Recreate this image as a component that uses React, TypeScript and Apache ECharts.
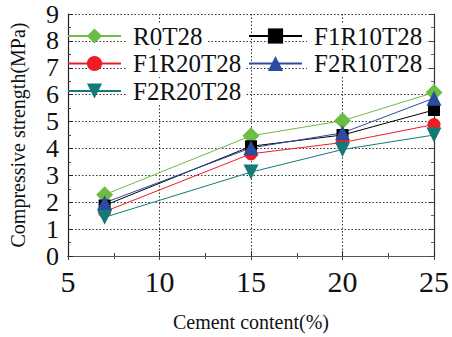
import React, { useEffect, useRef } from "react";
import * as echarts from "echarts";

const cementContent = [7, 15, 20, 25];
const seriesNames = ["R0T28", "F1R10T28", "F1R20T28", "F2R10T28", "F2R20T28"];
const r0t28 = [2.28, 4.47, 5.03, 6.08];
const f1r10t28 = [1.88, 4.08, 4.5, 5.43];
const f1r20t28 = [1.65, 3.8, 4.22, 4.89];
const f2r10t28 = [1.98, 4.02, 4.58, 5.87];
const f2r20t28 = [1.44, 3.12, 3.96, 4.5];

const FONT = "Liberation Serif";

function pairs(ys: number[]) {
  return cementContent.map((x, i) => [x, ys[i]]);
}

export default function App() {
  const ref = useRef<HTMLDivElement>(null);
  useEffect(() => {
    if (!ref.current) return;
    const chart = echarts.init(ref.current, null, { renderer: "svg" });
    const dotted = { color: "#333", width: 1, type: [1.5, 2] as number[] };
    const mk = (name: string, ys: number[], color: string, symbol: string, size: number, rotate = 0) => ({
      name,
      type: "line",
      data: pairs(ys),
      symbol,
      symbolSize: size,
      symbolRotate: rotate,
      lineStyle: { color, width: 1 },
      itemStyle: { color },
      z: 3,
    });
    const legendBase = {
      orient: "vertical",
      itemWidth: 53,
      itemHeight: 19,
      itemGap: 1.5,
      textStyle: {
        fontFamily: FONT,
        fontSize: 25,
        lineHeight: 26,
        color: "#111",
        backgroundColor: "#fff",
        padding: [0, 4, 0, 7],
      },
      z: 10,
    };
    chart.setOption({
      animation: false,
      backgroundColor: "#fff",
      textStyle: { fontFamily: FONT },
      grid: { left: 62, right: 17, top: 14, bottom: 72 },
      legend: [
        { ...legendBase, left: 62, top: 18, data: [seriesNames[0], seriesNames[2], seriesNames[4]] },
        { ...legendBase, left: 243, top: 18, data: [seriesNames[1], seriesNames[3]] },
      ],
      xAxis: [
        {
          type: "value",
          min: 5,
          max: 25,
          interval: 5,
          position: "bottom",
          name: "Cement content(%)",
          nameLocation: "middle",
          nameGap: 56,
          nameTextStyle: { fontFamily: FONT, fontSize: 20, color: "#111" },
          axisLine: { lineStyle: { color: "#222", width: 1.2 } },
          axisTick: { inside: true, length: 5, lineStyle: { color: "#222" } },
          minorTick: { show: true, splitNumber: 2, length: 3, lineStyle: { color: "#444" } },
          axisLabel: {
            fontFamily: FONT,
            fontSize: 30,
            color: "#111",
            margin: 10,
            showMinLabel: true,
            showMaxLabel: true,
          },
          splitLine: { show: true, lineStyle: dotted },
        },
        {
          type: "value",
          min: 5,
          max: 25,
          interval: 5,
          position: "top",
          axisLine: { lineStyle: { color: "#555", width: 1.2 } },
          axisTick: { inside: true, length: 4, lineStyle: { color: "#444" } },
          minorTick: { show: true, splitNumber: 2, length: 3, lineStyle: { color: "#666" } },
          axisLabel: { show: false },
          splitLine: { show: false },
        },
      ],
      yAxis: [
        {
          type: "value",
          min: 0,
          max: 9,
          interval: 1,
          position: "left",
          name: "Compressive strength(MPa)",
          nameLocation: "middle",
          nameGap: 40,
          nameTextStyle: { fontFamily: FONT, fontSize: 20, color: "#111" },
          axisLine: { show: true, lineStyle: { color: "#222", width: 1.2 } },
          axisTick: { show: true, inside: true, length: 5, lineStyle: { color: "#222" } },
          minorTick: { show: true, splitNumber: 2, length: 3, lineStyle: { color: "#444" } },
          axisLabel: {
            fontFamily: FONT,
            fontSize: 26,
            color: "#111",
            margin: 9,
            showMinLabel: true,
            showMaxLabel: true,
          },
          splitLine: { show: true, lineStyle: dotted },
        },
        {
          type: "value",
          min: 0,
          max: 9,
          interval: 1,
          position: "right",
          axisLine: { show: true, lineStyle: { color: "#333", width: 1.2 } },
          axisTick: { show: true, inside: true, length: 4, lineStyle: { color: "#444" } },
          minorTick: { show: true, splitNumber: 2, length: 3, lineStyle: { color: "#666" } },
          axisLabel: { show: false },
          splitLine: { show: false },
        },
      ],
      series: [
        mk(seriesNames[0], r0t28, "#6cbd45", "diamond", 17),
        mk(seriesNames[1], f1r10t28, "#000000", "rect", 12),
        mk(seriesNames[2], f1r20t28, "#ee1d23", "circle", 13),
        mk(seriesNames[3], f2r10t28, "#2b4ba0", "triangle", 15),
        mk(seriesNames[4], f2r20t28, "#137a77", "triangle", 15, 180),
      ],
    });
    return () => chart.dispose();
  }, []);
  return <div ref={ref} style={{ position: "fixed", left: 0, top: 0, width: 452, height: 337 }} />;
}
